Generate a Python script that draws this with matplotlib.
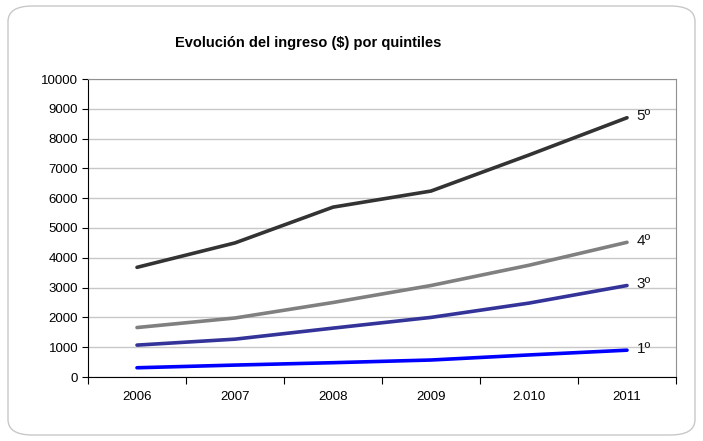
import matplotlib
matplotlib.use("Agg")
import matplotlib.pyplot as plt
from matplotlib.patches import FancyBboxPatch
import numpy as np

plt.rcParams['font.family'] = ['Liberation Sans', 'DejaVu Sans']

years = ["2006", "2007", "2008", "2009", "2.010", "2011"]
q5 = [3680, 4500, 5700, 6240, 7450, 8700]
q4 = [1660, 1980, 2500, 3070, 3750, 4520]
q3 = [1070, 1270, 1640, 2000, 2480, 3070]
q1 = [310, 400, 480, 570, 740, 900]
series = [("5º", q5, "#333333"), ("4º", q4, "#808080"),
          ("3º", q3, "#333399"), ("1º", q1, "#0000FF")]

W, H = 703, 441
fig = plt.figure(figsize=(W/100, H/100), dpi=100)
fig.patch.set_facecolor("white")
border = FancyBboxPatch((8/W, 6/H), (W-16)/W, (H-12)/H,
                        boxstyle="round,pad=0,rounding_size=0.035",
                        transform=fig.transFigure, fill=False,
                        edgecolor="#c8c8c8", linewidth=1.0)
fig.patches.append(border)

ax = fig.add_axes([88/W, 1-377/H, (676-88)/W, (377-79)/H])
x = np.arange(len(years)) + 0.5
for lab, vals, col in series:
    ax.plot(x, vals, color=col, lw=2.6, solid_capstyle='round', zorder=3)
    ax.annotate(lab, (x[-1], vals[-1]), xytext=(7, 1), textcoords="offset points",
                va="center", ha="left", fontsize=11, color="#111111")

ax.set_xlim(0, len(years))
ax.set_ylim(0, 10000)
ax.set_yticks(np.arange(0, 10001, 1000))
ax.set_xticks(np.arange(0, len(years)+1))
ax.set_xticklabels([])
ax.set_xticks(x, minor=True)
ax.set_xticklabels(years, minor=True)
ax.tick_params(axis='x', which='minor', length=0, pad=10, labelsize=9.5)
ax.tick_params(axis='x', which='major', length=5, direction='out', width=0.8)
ax.tick_params(axis='y', length=4, direction='out', width=0.8, labelsize=9.5, pad=3)
ax.yaxis.grid(True, color="#c8c8c8", lw=1.0)
ax.set_axisbelow(True)
ax.spines['top'].set_color("#909090")
ax.spines['right'].set_color("#909090")
ax.spines['left'].set_color("black")
ax.spines['bottom'].set_color("black")

fig.text(308/W, 1-43/H, "Evolución del ingreso ($) por quintiles", ha="center", va="center",
         fontsize=10.5, fontweight="bold")

fig.savefig("out.png", dpi=100)
